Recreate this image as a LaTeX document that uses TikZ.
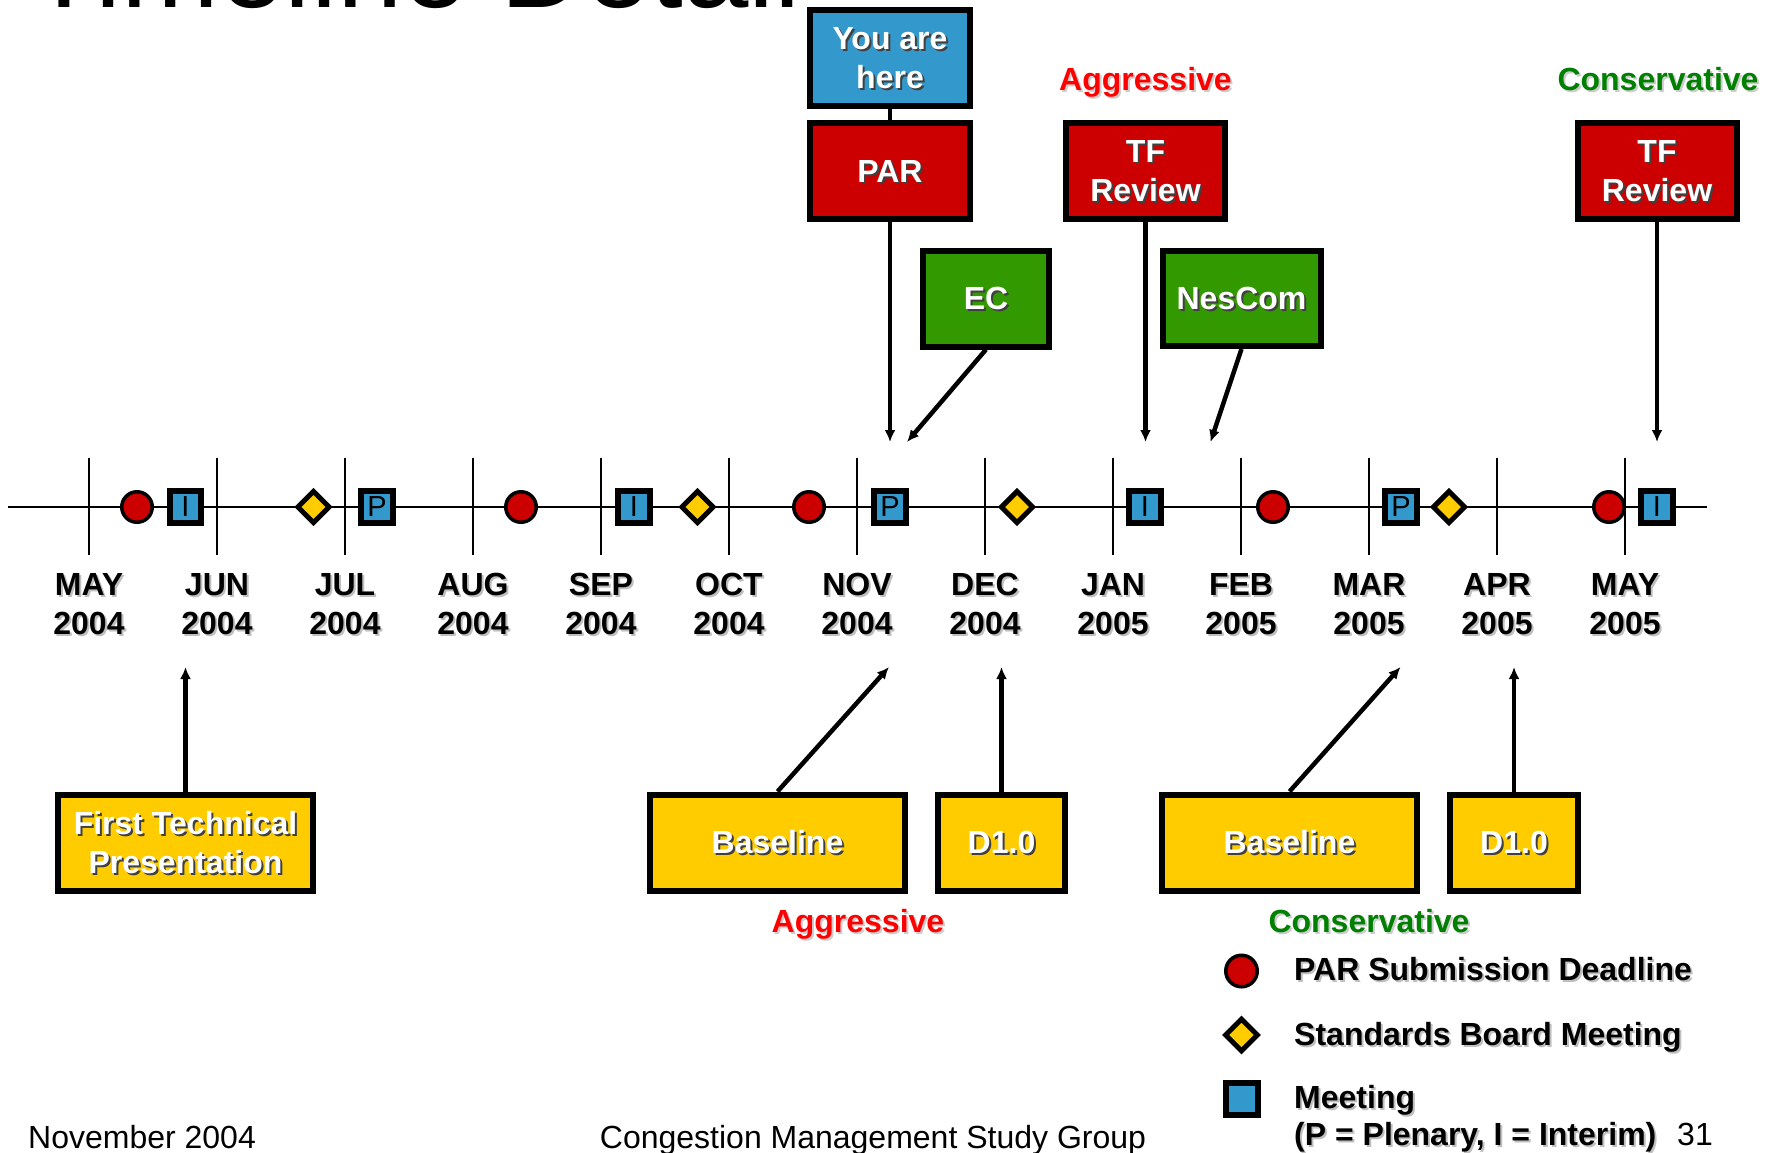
\documentclass[tikz,border=0pt]{standalone}
\usepackage{fontspec}
\setmainfont{Liberation Sans}
\usetikzlibrary{arrows.meta}
\definecolor{parred}{RGB}{204,0,0}
\definecolor{ecgreen}{RGB}{51,153,0}
\definecolor{mtgblue}{RGB}{51,153,204}
\definecolor{sbyellow}{RGB}{255,204,0}
\definecolor{aggred}{RGB}{255,0,0}
\definecolor{consgreen}{RGB}{0,128,0}
% text with a small drop shadow
\newcommand{\shd}[2][black!75]{\makebox[0pt][l]{\smash{\hspace{2pt}\raisebox{-2pt}{\textcolor{#1}{#2}}}}#2}
\newcommand{\boldtxt}{\fontsize{32}{38.4}\selectfont\bfseries}
\newcommand{\plaintxt}{\fontsize{32}{38.4}\selectfont}

\begin{document}
\begin{tikzpicture}[x=1pt,y=-1pt,
	box/.style={draw=black,line width=6pt,text=white,font=\boldtxt,align=center,inner sep=0pt,minimum height=96pt},
	pard/.style={circle,draw=black,line width=3.5pt,fill=parred,minimum size=30.5pt,inner sep=0pt},
	sbm/.style={rectangle,rotate=45,draw=black,line width=5pt,fill=sbyellow,minimum size=22pt,inner sep=0pt},
	mtg/.style={rectangle,draw=black,line width=6pt,fill=mtgblue,minimum size=31.5pt,inner sep=0pt,font=\fontsize{29}{30}\selectfont},
	month/.style={font=\boldtxt,align=center,inner sep=0pt},
	legend/.style={font=\boldtxt,anchor=base west,inner sep=0pt},
	arr/.style={-{Latex[length=12pt,width=11pt]},line width=4.5pt},
	tick/.style={line width=1.5pt}]
	\useasboundingbox (0,0) rectangle (1777,1152);
	\clip (0,0) rectangle (1777,1152);
	\node[anchor=base west,inner sep=0pt,font=\fontsize{117.5}{120}\selectfont] (title) at (28,7) {Timeline Detail};

	% timeline
	\draw[line width=2pt] (8,507) -- (1707,507);
	\foreach \i in {0,...,12}
		\draw[tick] ({89+128*\i},458) -- ({89+128*\i},555);
	\foreach \m/\y [count=\i from 0] in {MAY/2004,JUN/2004,JUL/2004,AUG/2004,SEP/2004,OCT/2004,NOV/2004,DEC/2004,JAN/2005,FEB/2005,MAR/2005,APR/2005,MAY/2005}
		\node[month] (m\i) at ({89+128*\i},604) {\shd[black!25]{\m}\\\shd[black!25]{\y}};
	\foreach \x [count=\i] in {137,521,809,1273,1609}
		\node[pard] (pd\i) at (\x,507) {};
	\foreach \x [count=\i] in {313.5,697.5,1017,1449}
		\node[sbm] (sb\i) at (\x,507) {};
	\foreach \x/\t [count=\i] in {185.5/I,377/P,634/I,890/P,1145/I,1401/P,1657/I}
		\node[mtg] (mt\i) at (\x,507) {\t};

	% boxes above
	\node[box,fill=mtgblue,minimum width=160pt] (here) at (890,58) {\shd{You are}\\\shd{here}};
	\node[box,fill=parred,minimum width=160pt] (par) at (890,171) {\shd{PAR}};
	\node[box,fill=parred,minimum width=159pt] (tfa) at (1145.5,171) {\shd{TF}\\\shd{Review}};
	\node[box,fill=parred,minimum width=159pt] (tfc) at (1657,171) {\shd{TF}\\\shd{Review}};
	\node[box,fill=ecgreen,minimum width=126pt] (ec) at (986,298.5) {\shd{EC}};
	\node[box,fill=ecgreen,minimum width=158pt,minimum height=95pt] (nescom) at (1241.5,298.5) {\shd{NesCom}};
	\node[font=\boldtxt,text=aggred,anchor=base,inner sep=0pt] (agtop) at (1145.5,90) {\shd[black!20]{Aggressive}};
	\node[font=\boldtxt,text=consgreen,anchor=base,inner sep=0pt] (cstop) at (1658,90) {\shd[black!20]{Conservative}};

	% boxes below
	\node[box,fill=sbyellow,minimum width=255pt] (ftp) at (185.5,842.5) {\shd{First Technical}\\\shd{Presentation}};
	\node[box,fill=sbyellow,minimum width=255pt] (basea) at (777.5,842.5) {\shd{Baseline}};
	\node[box,fill=sbyellow,minimum width=127pt] (d1a) at (1001.5,842.5) {\shd{D1.0}};
	\node[box,fill=sbyellow,minimum width=255pt] (basec) at (1289.5,842.5) {\shd{Baseline}};
	\node[box,fill=sbyellow,minimum width=128pt] (d1c) at (1514,842.5) {\shd{D1.0}};
	\node[font=\boldtxt,text=aggred,anchor=base,inner sep=0pt] (agbot) at (858,932) {\shd[black!20]{Aggressive}};
	\node[font=\boldtxt,text=consgreen,anchor=base,inner sep=0pt] (csbot) at (1369,932) {\shd[black!20]{Conservative}};

	% arrow ends
	\coordinate (tpar) at (890,442);
	\coordinate (tec) at (907,442);
	\coordinate (ttfa) at (1145.5,442);
	\coordinate (tnes) at (1210.5,442);
	\coordinate (ttfc) at (1657,442);
	\coordinate (tftp) at (185.5,667);
	\coordinate (tbasea) at (889,667);
	\coordinate (td1a) at (1001.5,667);
	\coordinate (tbasec) at (1400.5,667);
	\coordinate (td1c) at (1514,667);

	\draw[line width=4.5pt] (here) -- (par);
	\path[arr]
	(par.south) edge (tpar)
	(ec.south) edge (tec)
	(tfa.south) edge (ttfa)
	(nescom.south) edge (tnes)
	(tfc.south) edge (ttfc)
	(ftp.north) edge (tftp)
	(basea.north) edge (tbasea)
	(d1a.north) edge (td1a)
	(basec.north) edge (tbasec)
	(d1c.north) edge (td1c);

	% legend
	\node[pard,minimum size=31.5pt] (lgpd) at (1241.5,971) {};
	\node[sbm,minimum size=22.5pt] (lgsb) at (1241.5,1035) {};
	\node[mtg,minimum size=32pt] (lgmt) at (1241.5,1099) {};
	\node[legend] (lgpdtxt) at (1294,980) {\shd[black!25]{PAR Submission Deadline}};
	\node[legend] (lgsbtxt) at (1294,1045.5) {\shd[black!25]{Standards Board Meeting}};
	\node[legend] (lgmttxt) at (1294,1108) {\shd[black!25]{Meeting}};
	\node[legend] (lgpitxt) at (1294,1145) {\shd[black!25]{(P = Plenary, I = Interim)}};

	% footer
	\node[font=\plaintxt,anchor=base west,inner sep=0pt] (date) at (28,1148) {November 2004};
	\node[font=\plaintxt,anchor=base,inner sep=0pt] (group) at (873,1148) {Congestion Management Study Group};
	\node[font=\plaintxt,anchor=base west,inner sep=0pt] (pageno) at (1677,1145) {31};
\end{tikzpicture}
\end{document}
